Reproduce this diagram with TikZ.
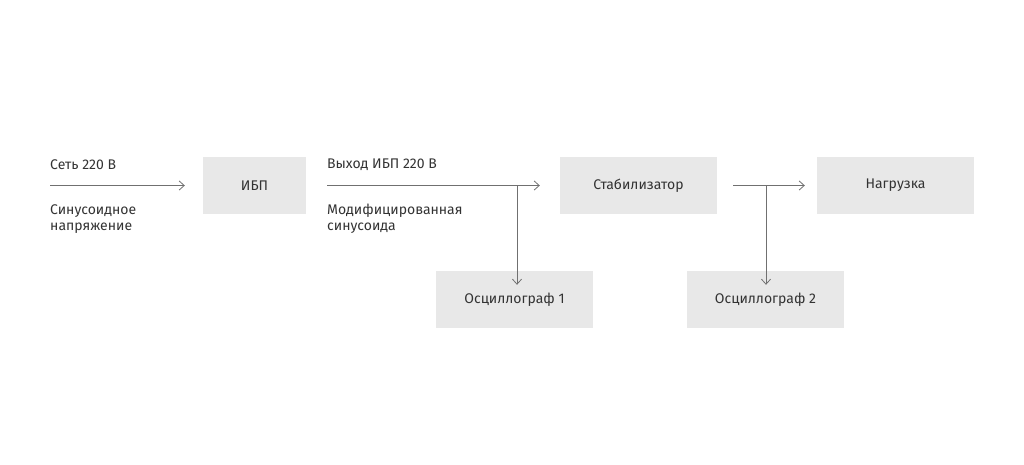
\documentclass[tikz,border=0pt]{standalone}
\usepackage{fontspec}
\setmainfont{Fira Sans}
\usetikzlibrary{arrows.meta,positioning}
\definecolor{boxgray}{HTML}{E8E8E8}
\definecolor{txtgray}{HTML}{333333}
\definecolor{linegray}{HTML}{707070}
\tikzset{
    block/.style={fill=boxgray, minimum height=57pt, text=txtgray, font=\fontsize{14}{16}\selectfont},
    note/.style={anchor=west, text=txtgray, align=left, font=\fontsize{14}{16}\selectfont, inner sep=0pt},
    link/.style={draw=linegray, line width=0.8pt, -{Straight Barb[length=5pt,width=9pt]}},
  }
\begin{document}
\begin{tikzpicture}[x=1pt,y=-1pt]
				  \useasboundingbox (0,0) rectangle (1024,464);
				  %blocs
				  \node[block, minimum width=103pt](ibp) at (254.5,185.5) {ИБП};
				  \node[block, minimum width=157pt](stab) at (638.5,185.5) {Стабилизатор};
				  \node[block, minimum width=157pt](load) at (895.5,185.5) {Нагрузка};
				  \node[block, minimum width=157pt](osc1) at (514.5,299.5) {Осциллограф 1};
				  \node[block, minimum width=157pt](osc2) at (765.5,299.5) {Осциллограф 2};
				  %points
				  \coordinate(in) at (50,185.5);
				  \coordinate(out) at (327,185.5);
				  \coordinate(b1) at (517,185.5);
				  \coordinate(s) at (733,185.5);
				  \coordinate(b2) at (766,185.5);
				  %fleches
				  \draw[link] (in) -- ([xshift=-18pt]ibp.west);
				  \draw[link] (out) -- ([xshift=-20pt]stab.west);
				  \draw[link] (b1) -- ([yshift=-14pt]b1 |- osc1.north);
				  \draw[link] (s) -- ([xshift=-12pt]load.west);
				  \draw[link] (b2) -- ([yshift=-14pt]b2 |- osc2.north);
				  %textes
				  \node[note] at (50,165) {Сеть 220 В};
				  \node[note] at (50,219) {Синусоидное\\напряжение};
				  \node[note] at (327,165) {Выход ИБП 220 В};
				  \node[note] at (327,219) {Модифицированная\\синусоида};
\end{tikzpicture}
\end{document}
